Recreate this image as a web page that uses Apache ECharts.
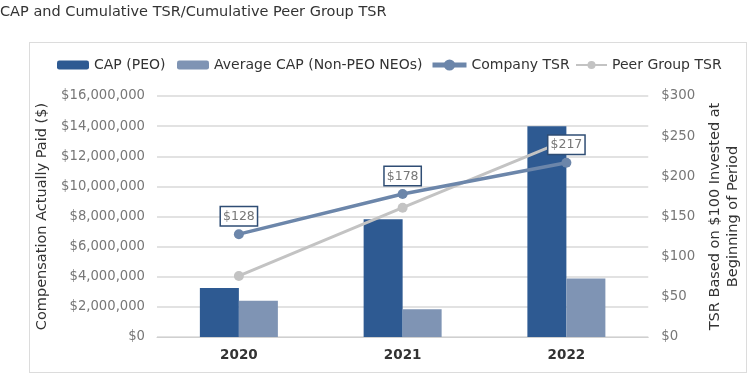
<!DOCTYPE html>
<html><head><meta charset="utf-8">
<script src="https://cdn.jsdelivr.net/npm/echarts@6/dist/echarts.min.js"></script>
<style>html,body{margin:0;padding:0;background:#fff}#c{width:750px;height:376px}
#box{position:absolute;left:29px;top:42px;width:718px;height:331px;border:1px solid #dcdcdc;box-sizing:border-box}</style>
</head><body><div id="box"></div><div id="c" style="position:absolute;left:0;top:0"></div>
<script>
const title = 'CAP and Cumulative TSR/Cumulative Peer Group TSR';
const categories = ['2020', '2021', '2022'];
const capPEO = [3250000, 7820000, 14000000];
const avgCapNonPEO = [2400000, 1850000, 3880000];
const companyTSR = [128, 178, 217];
const peerTSR = [76, 161, 245];
const leftTicks = [0, 16000000, 2000000];
const rightTicks = [0, 300, 50];

const FONT = 'DejaVu Sans';
const chart = echarts.init(document.getElementById('c'));
const fmtMoney = v => '$' + v.toLocaleString('en-US');
const legendText = {fontFamily: FONT, fontSize: 14, color: '#333'};
chart.setOption({
  animation: false,
  textStyle: {fontFamily: FONT},
  title: {text: title, left: -5, top: 0, textStyle: {fontFamily: FONT, fontSize: 14.5, fontWeight: 'normal', color: '#333'}},
  legend: [
    {data: ['CAP (PEO)'], left: 57, top: 58, itemWidth: 32, itemHeight: 9, textStyle: legendText, padding: 0},
    {data: ['Average CAP (Non-PEO NEOs)'], left: 177, top: 58, itemWidth: 32, itemHeight: 9, textStyle: legendText, padding: 0},
    {data: [{name: 'Company TSR', lineStyle: {width: 5}}], left: 430, top: 58, itemWidth: 34, itemHeight: 14, textStyle: legendText, padding: 0},
    {data: ['Peer Group TSR'], left: 575, top: 58, itemWidth: 31, itemHeight: 10, textStyle: legendText, padding: 0}
  ],
  grid: {left: 157, right: 101, top: 96, bottom: 39},
  xAxis: {type: 'category', data: categories, axisTick: {show: false},
    axisLine: {lineStyle: {color: '#d0d0d0'}},
    axisLabel: {fontFamily: FONT, fontSize: 13.5, fontWeight: 'bold', color: '#333', margin: 11}},
  yAxis: [
    {type: 'value', min: leftTicks[0], max: leftTicks[1], interval: leftTicks[2],
     name: 'Compensation Actually Paid ($)', nameLocation: 'middle', nameGap: 97,
     nameTextStyle: {fontFamily: FONT, fontSize: 14.5, color: '#333'},
     axisLabel: {formatter: fmtMoney, fontFamily: FONT, fontSize: 13.2, color: '#777', margin: 12},
     splitLine: {lineStyle: {color: '#d8d8d8', width: 1.5}}},
    {type: 'value', min: rightTicks[0], max: rightTicks[1], interval: rightTicks[2], position: 'right',
     name: 'TSR Based on $100 Invested at\nBeginning of Period', nameLocation: 'middle', nameGap: 54, nameRotate: 90,
     nameTextStyle: {fontFamily: FONT, fontSize: 14.5, color: '#333', lineHeight: 18},
     axisLabel: {formatter: v => '$' + v, fontFamily: FONT, fontSize: 13.3, color: '#777', margin: 13},
     splitLine: {show: false}}
  ],
  series: [
    {name: 'CAP (PEO)', type: 'bar', data: capPEO, barWidth: 39, barGap: '0%', itemStyle: {color: '#2e5a92'}, z: 1},
    {name: 'Average CAP (Non-PEO NEOs)', type: 'bar', data: avgCapNonPEO, barWidth: 39, itemStyle: {color: '#7f94b4'}, z: 1},
    {name: 'Peer Group TSR', type: 'line', yAxisIndex: 1, data: peerTSR, symbol: 'circle', symbolSize: 10,
     lineStyle: {color: '#c3c3c3', width: 3}, itemStyle: {color: '#c3c3c3'}, z: 3},
    {name: 'Company TSR', type: 'line', yAxisIndex: 1, data: companyTSR, symbol: 'circle', symbolSize: 10,
     lineStyle: {color: '#6c86aa', width: 3.5}, itemStyle: {color: '#6c86aa'}, z: 4,
     label: {show: true, position: 'top', distance: 4, formatter: p => '$' + p.value,
       fontFamily: FONT, fontSize: 12.5, color: '#777', backgroundColor: '#fff',
       borderColor: '#2f4d74', borderWidth: 1.5, padding: [3, 2, 2, 2]}}
  ]
});
</script></body></html>
